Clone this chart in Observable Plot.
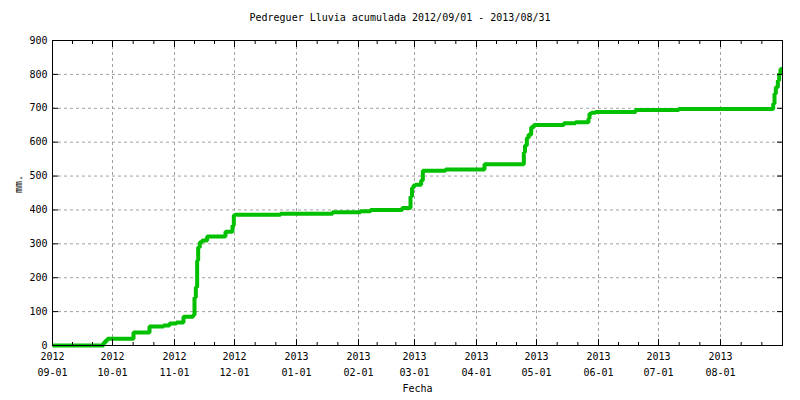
<!DOCTYPE html>
<html><head><meta charset="utf-8">
<script src="https://cdn.jsdelivr.net/npm/d3@7"></script>
<script src="https://cdn.jsdelivr.net/npm/@observablehq/plot@0.6"></script>
<style>
body{margin:0;background:#fff;font-family:"DejaVu Sans Mono",monospace;}
#title{height:30px;width:800px;text-align:center;font-size:10px;line-height:10px;padding-top:13px;box-sizing:border-box;color:#000;}
#chart svg{display:block;}
</style></head><body>
<div id="title">Pedreguer Lluvia acumulada 2012/09/01 - 2013/08/31</div>
<div id="chart"></div>
<script>
const dates = [
  "2012-09-01 00","2012-09-26 12","2012-09-27 12","2012-09-28 12","2012-10-11 12","2012-10-19 12",
  "2012-10-26 12","2012-10-29 12","2012-11-02 00","2012-11-05 12","2012-11-10 08","2012-11-11 00",
  "2012-11-11 16","2012-11-12 08","2012-11-12 20","2012-11-13 16","2012-11-14 20","2012-11-17 08",
  "2012-11-26 12","2012-11-30 00","2012-11-30 16","2012-12-01 06","2012-12-24 00","2013-01-19 00",
  "2013-02-02 00","2013-02-07 00","2013-02-22 20","2013-02-27 00","2013-02-27 18","2013-02-28 12",
  "2013-03-01 12","2013-03-04 08","2013-03-05 04","2013-03-16 12","2013-04-05 00","2013-04-24 16",
  "2013-04-25 06","2013-04-26 04","2013-04-27 00","2013-04-28 08","2013-04-29 16","2013-05-14 16",
  "2013-05-20 12","2013-05-27 00","2013-05-27 12","2013-05-28 12","2013-05-30 12","2013-06-19 12",
  "2013-07-11 04","2013-08-27 08","2013-08-28 00","2013-08-28 16","2013-08-29 16","2013-08-30 08",
  "2013-08-31 00","2013-08-31 23"
];
const rainfall = [
  0,8,15,20,38,56,
  59,65,68,85,90,142,
  172,251,290,305,310,322,
  336,354,384,386,389,393,
  396,400,406,440,465,472,
  474,487,516,519,535,570,
  590,612,622,644,651,656,
  659,670,684,687,689,695,
  698,713,743,762,782,802,
  816,816
];
const yTicks = [0,100,200,300,400,500,600,700,800,900];
const monthTicks = ["2012-09-01","2012-10-01","2012-11-01","2012-12-01","2013-01-01","2013-02-01",
  "2013-03-01","2013-04-01","2013-05-01","2013-06-01","2013-07-01","2013-08-01"];
const xDomain = ["2012-09-01","2013-09-01"];
const titleText = "Pedreguer Lluvia acumulada 2012/09/01 - 2013/08/31";
const xLabel = "Fecha";
const yLabel = "mm.";

const parseT = d3.utcParse("%Y-%m-%d %H");
const parseD = d3.utcParse("%Y-%m-%d");
const data = dates.map((d, i) => ({date: parseT(d), mm: rainfall[i]}));
const majors = monthTicks.map(parseD);
const dom = xDomain.map(parseD);
const bounds = majors.concat([dom[1]]);
const minors = [];
for (let i = 0; i < bounds.length - 1; i++) {
  const a = +bounds[i], b = +bounds[i + 1];
  minors.push(new Date(a + (b - a) / 3), new Date(a + 2 * (b - a) / 3));
}
const blank = () => "";
const gridStyle = {stroke: "#a0a0a0", strokeOpacity: 1, strokeDasharray: "3,3", strokeWidth: 1};

const chart = Plot.plot({
  width: 800,
  height: 370,
  marginTop: 10,
  marginBottom: 55,
  marginLeft: 52,
  marginRight: 18,
  style: {fontFamily: "DejaVu Sans Mono, monospace", fontSize: "10px", color: "#000", background: "#fff"},
  x: {type: "utc", domain: dom},
  y: {domain: [0, 900]},
  marks: [
    Plot.gridX(majors.slice(1), gridStyle),
    Plot.gridY(yTicks.slice(1, -1), gridStyle),
    Plot.line(data, {x: "date", y: "mm", curve: "step-after", stroke: "#00c000", strokeWidth: 4, strokeLinejoin: "miter", strokeLinecap: "butt"}),
    Plot.frame({stroke: "#000", strokeWidth: 1}),
    // tick labels
    Plot.axisY(yTicks, {anchor: "left", tickSize: 0, tickPadding: 5, label: null}),
    Plot.axisX(majors, {anchor: "bottom", tickSize: 0, tickPadding: 7, tickFormat: d3.utcFormat("%Y"), label: null}),
    Plot.axisX(majors, {anchor: "bottom", tickSize: 0, tickPadding: 23, tickFormat: d3.utcFormat("%m-%d"), label: null}),
    // inward ticks
    Plot.axisY(yTicks, {anchor: "left", tickSize: -6, tickFormat: blank, label: null}),
    Plot.axisY(yTicks, {anchor: "right", tickSize: -6, tickFormat: blank, label: null}),
    Plot.axisX(majors, {anchor: "bottom", tickSize: -6, tickFormat: blank, label: null}),
    Plot.axisX(majors, {anchor: "top", tickSize: -6, tickFormat: blank, label: null}),
    Plot.axisX(minors, {anchor: "bottom", tickSize: -3, tickFormat: blank, label: null}),
    Plot.axisX(minors, {anchor: "top", tickSize: -3, tickFormat: blank, label: null}),
    Plot.text([xLabel], {frameAnchor: "bottom", dy: 46, text: d => d, fontSize: 10}),
    Plot.text([yLabel], {frameAnchor: "left", dx: -34, rotate: -90, text: d => d, fontSize: 10})
  ]
});
document.getElementById("chart").appendChild(chart);
</script>
</body></html>
